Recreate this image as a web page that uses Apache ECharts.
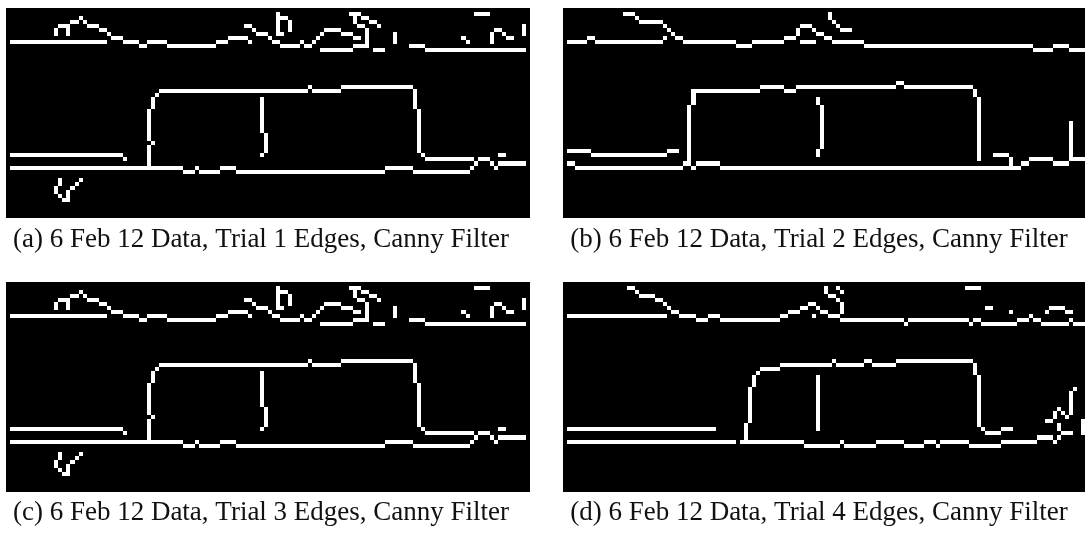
<!DOCTYPE html>
<html>
<head>
<meta charset="utf-8">
<script src="https://cdn.jsdelivr.net/npm/echarts@6/dist/echarts.min.js"></script>
<style>
html,body{margin:0;padding:0;background:#ffffff;}
#chart{width:1085px;height:539px;}
</style>
</head>
<body>
<div id="chart"></div>
<script>
// Edge image grid size (pixels of the Canny output)
const GRID_COLS = 130;
const GRID_ROWS = 52;

const captions = [
  "(a) 6 Feb 12 Data, Trial 1 Edges, Canny Filter",
  "(b) 6 Feb 12 Data, Trial 2 Edges, Canny Filter",
  "(c) 6 Feb 12 Data, Trial 3 Edges, Canny Filter",
  "(d) 6 Feb 12 Data, Trial 4 Edges, Canny Filter"
];

// Trial 1: horizontal runs [row, firstCol, lastCol]
const trial1Rows = [
  [8,1,24],[4,13,15],[3,16,17],[2,18,18],[3,19,19],[4,20,22],[5,23,24],[6,25,25],[7,26,28],
  [8,29,32],[9,33,34],[8,35,39],[9,40,51],[8,52,54],[7,55,59],[8,60,60],
  [4,59,60],[5,61,61],[6,62,64],[7,65,65],[8,66,67],[9,68,72],[8,73,73],[9,74,75],[8,76,76],
  [7,77,77],[6,78,78],[5,79,82],[6,83,85],[7,86,87],
  [6,68,68],[2,68,69],
  [1,85,87],[2,88,89],[3,90,91],[4,87,88],[4,92,92],
  [10,78,85],[9,86,89],[10,91,93],
  [9,100,103],[10,104,128],[1,116,119],[7,113,113],[8,114,114],[5,121,122],[6,123,123],[7,124,125],
  [20,38,74],[19,75,75],[20,76,82],[19,83,100],[37,104,115],
  [36,1,28],[37,29,29],
  [39,1,43],[40,44,46],[39,47,47],[40,48,52],[39,53,56],[40,57,93],[39,94,100],[40,101,114],
  [39,115,115],[38,116,116],[37,117,119],[38,120,120],[39,121,121],[38,122,128],[36,122,123],
  [42,13,13],[42,18,18],[43,13,13],[43,17,17],[44,16,16],[46,13,13],[47,14,14]
];
// Trial 1: vertical runs [col, firstRow, lastRow]
const trial1Cols = [
  [12,5,6],[15,5,6],[67,1,6],[70,3,5],[86,2,3],[89,5,8],[96,6,8],[120,6,8],[128,4,6],
  [37,21,21],[36,22,24],[35,25,32],[36,33,33],[35,34,38],
  [101,20,24],[102,25,35],[103,36,36],
  [63,22,30],[64,31,35],[63,36,36],
  [12,44,45],[15,45,47]
];

// Trial 2
const trial2Rows = [
  [8,1,5],[7,6,7],[8,8,24],[7,25,25],
  [1,15,17],[2,18,18],[3,19,24],[4,25,25],[5,26,26],[6,27,27],[7,28,29],[8,30,42],[9,43,46],
  [8,47,54],[7,55,57],[4,59,61],[5,62,62],[6,63,64],[8,59,62],[7,65,66],[8,67,74],
  [9,75,116],[10,117,121],[9,122,125],[10,126,129],[5,69,71],
  [35,1,6],[36,7,25],[35,26,28],
  [38,1,2],[39,3,29],[38,30,30],[39,32,32],[38,33,38],[39,39,111],
  [36,107,110],[39,112,113],[38,114,115],[37,116,121],[38,122,125],[37,127,129],
  [20,33,48],[19,49,54],[20,55,57],[19,58,82],[18,83,84],[19,85,101]
];
const trial2Cols = [
  [58,5,6],[66,1,2],[67,3,3],[68,4,4],
  [32,20,23],[31,24,38],[102,20,21],[103,22,37],
  [63,22,23],[64,24,34],[63,35,36],[111,37,38],[126,28,37]
];

// Trial 3 (identical edge map to Trial 1 in the figure)
const trial3Rows = trial1Rows;
const trial3Cols = trial1Cols;

// Trial 4
const trial4Rows = [
  [8,1,25],[1,16,17],[2,18,18],[3,19,22],[4,23,24],[5,25,25],[6,26,26],[7,27,28],[8,29,32],
  [9,33,35],[8,36,38],[9,39,53],[8,54,55],[7,56,58],[6,59,60],[5,61,62],[6,63,63],[7,64,65],[8,62,62],
  [1,68,68],[2,69,69],[3,66,67],[4,68,68],[8,66,68],
  [9,69,84],[10,85,85],[9,86,100],[10,101,101],[9,102,103],[10,104,112],[9,113,115],[8,116,116],
  [9,117,118],[10,119,125],[9,126,126],[10,127,129],[7,111,111],
  [7,120,120],[6,121,124],[7,125,126],[1,100,103],[6,105,106],
  [36,1,37],[39,1,42],[39,44,59],[40,60,68],[39,69,69],[40,70,77],[39,78,84],[40,85,89],
  [39,90,92],[40,93,93],[39,94,100],[40,101,108],[39,109,117],[38,118,121],[39,122,122],
  [38,123,123],[37,124,126],
  [21,49,53],[20,54,66],[19,67,67],[20,68,74],[19,75,76],[20,77,82],[19,83,101],
  [36,104,104],[37,105,108],[36,109,111],
  [34,120,121]
];
const trial4Cols = [
  [65,1,2],[69,5,7],
  [45,35,38],[46,26,34],[47,23,25],[48,22,22],[63,23,36],[102,20,22],[103,23,35],
  [126,27,32],[127,26,26],[125,33,33],[124,32,32],[123,31,31],[122,32,33],[123,35,36],[129,34,37]
];

function toRuns(rows, cols) {
  const out = [];
  rows.forEach(function (r) { out.push([r[1], r[0], r[2], r[0]]); });
  cols.forEach(function (c) { out.push([c[0], c[1], c[0], c[2]]); });
  return out;
}

const panels = [
  { rows: trial1Rows, cols: trial1Cols, box: [6, 8, 524, 210], cap: captions[0], capPos: [261, 240] },
  { rows: trial2Rows, cols: trial2Cols, box: [563, 8, 522, 210], cap: captions[1], capPos: [819, 240] },
  { rows: trial3Rows, cols: trial3Cols, box: [6, 282, 524, 210], cap: captions[2], capPos: [261, 513] },
  { rows: trial4Rows, cols: trial4Cols, box: [563, 282, 522, 210], cap: captions[3], capPos: [819, 513] }
];

const FONT_FAMILY = "'Liberation Serif', 'DejaVu Serif', serif";
const measureCtx = document.createElement('canvas').getContext('2d');
measureCtx.font = "100px " + FONT_FAMILY;
const refWidth = measureCtx.measureText(captions[0]).width;
const captionSize = Math.min(27, 100 * 505 / refWidth);

function renderRun(params, api) {
  const a = api.coord([api.value(0), api.value(1)]);
  const b = api.coord([api.value(2) + 1, api.value(3) + 1]);
  const x0 = Math.round(Math.min(a[0], b[0]));
  const x1 = Math.round(Math.max(a[0], b[0]));
  const y0 = Math.round(Math.min(a[1], b[1]));
  const y1 = Math.round(Math.max(a[1], b[1]));
  return { type: 'rect', shape: { x: x0, y: y0, width: x1 - x0, height: y1 - y0 }, style: { fill: '#ffffff' } };
}

const chart = echarts.init(document.getElementById('chart'), null, { renderer: 'canvas' });
chart.setOption({
  animation: false,
  backgroundColor: '#ffffff',
  grid: panels.map(function (p) {
    return { left: p.box[0], top: p.box[1], width: p.box[2], height: p.box[3], show: true,
             backgroundColor: '#000000', borderWidth: 0 };
  }),
  xAxis: panels.map(function (p, i) {
    return { type: 'value', gridIndex: i, min: 0, max: GRID_COLS, show: false };
  }),
  yAxis: panels.map(function (p, i) {
    return { type: 'value', gridIndex: i, min: 0, max: GRID_ROWS, inverse: true, show: false };
  }),
  series: panels.map(function (p, i) {
    return { type: 'custom', xAxisIndex: i, yAxisIndex: i, silent: true, clip: true,
             encode: { x: [0, 2], y: [1, 3] }, data: toRuns(p.rows, p.cols), renderItem: renderRun };
  }),
  graphic: panels.map(function (p) {
    return { type: 'text', x: p.capPos[0], y: p.capPos[1], silent: true,
             style: { text: p.cap, fill: '#111111', fontFamily: FONT_FAMILY, fontSize: captionSize,
                      align: 'center', verticalAlign: 'middle' } };
  })
});
</script>
</body>
</html>
